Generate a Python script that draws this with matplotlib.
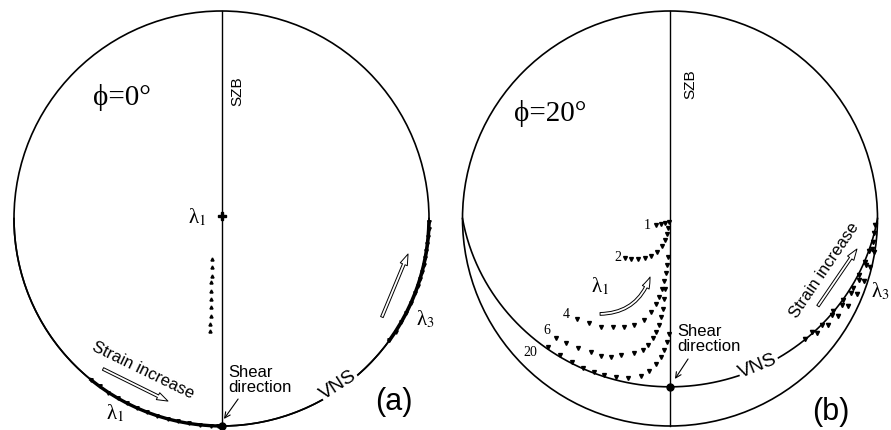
import numpy as np
import matplotlib.pyplot as plt
from matplotlib.patches import Circle, FancyArrowPatch

plt.rcParams['mathtext.fontset'] = 'stix'
SANS = ['Liberation Sans', 'DejaVu Sans']
SERIF = ['Liberation Serif', 'DejaVu Serif']

# ---------------- data: panel (a), phi = 0 deg ----------------
PHI_A = 0
lam1_a_start = (0.0, 0.01)
lam1_a_x = [-0.046, -0.047, -0.048, -0.049, -0.050, -0.051, -0.052, -0.053, -0.054, -0.055]
lam1_a_y = [-0.195, -0.234, -0.277, -0.306, -0.349, -0.388, -0.427, -0.470, -0.508, -0.542]
# lambda1 / lambda3 positions lying on the primitive (angle in deg, math convention)
lam1_a_rim = [-129, -126, -123, -120, -117, -114, -111, -108, -105, -102, -99, -96, -93, -91]
lam3_a_rim = [-1, -3, -5, -7, -9, -11, -13, -15, -17, -19, -21, -24, -27, -30, -33, -36]

# ---------------- data: panel (b), phi = 20 deg ----------------
PHI_B = 20
curve_labels = ['1', '2', '4', '6', '20']
curve_label_xy = [(-0.111, -0.031), (-0.252, -0.182), (-0.499, -0.458),
                  (-0.596, -0.535), (-0.673, -0.642)]
c1_x = [-0.068, -0.044, -0.024, -0.005]
c1_y = [-0.031, -0.027, -0.022, -0.017]
c2_x = [-0.218, -0.189, -0.155, -0.121, -0.092, -0.063, -0.039, -0.024, -0.015, -0.010]
c2_y = [-0.191, -0.196, -0.196, -0.191, -0.182, -0.162, -0.133, -0.104, -0.075, -0.046]
c4_x = [-0.010, -0.015, -0.019, -0.029, -0.039, -0.053, -0.068, -0.092, -0.126, -0.174,
        -0.223, -0.276, -0.334, -0.392, -0.446]
c4_y = [-0.186, -0.225, -0.264, -0.303, -0.341, -0.380, -0.414, -0.453, -0.487, -0.511,
        -0.521, -0.525, -0.521, -0.506, -0.482]
c6_x = [-0.024, -0.029, -0.034, -0.044, -0.053, -0.068, -0.082, -0.107, -0.131, -0.174,
        -0.237, -0.286, -0.334, -0.383, -0.441, -0.499, -0.547]
c6_y = [-0.341, -0.390, -0.438, -0.477, -0.511, -0.545, -0.574, -0.608, -0.632, -0.646,
        -0.656, -0.666, -0.661, -0.642, -0.622, -0.598, -0.574]
c20_x = [-0.005, -0.015, -0.029, -0.044, -0.068, -0.102, -0.140, -0.203, -0.262, -0.320,
         -0.368, -0.421, -0.470, -0.528, -0.586]
c20_y = [-0.559, -0.593, -0.632, -0.666, -0.700, -0.734, -0.758, -0.768, -0.763, -0.753,
         -0.738, -0.719, -0.690, -0.656, -0.617]
lam3_b_x = [[0.990, 0.985, 0.976, 0.960, 0.940, 0.913, 0.880, 0.834, 0.786],
            [0.684, 0.733, 0.781, 0.829, 0.872, 0.911, 0.945, 0.973],
            [0.651, 0.708, 0.761, 0.810, 0.858, 0.901, 0.935, 0.964, 0.984]]
lam3_b_y = [[-0.030, -0.070, -0.113, -0.157, -0.210, -0.272, -0.335, -0.393, -0.446],
            [-0.547, -0.513, -0.465, -0.417, -0.359, -0.296, -0.224, -0.147],
            [-0.580, -0.550, -0.515, -0.470, -0.420, -0.362, -0.300, -0.232, -0.160]]

# ---------------- layout (reference pixels) ----------------
W, H = 891, 431
R = 207.5
CY = 219.5


def great_circle(phi_deg, n=361):
    """Equal-area lower-hemisphere trace of an E-W plane dipping phi towards S."""
    t = np.radians(np.linspace(0, 180, n))
    p = np.radians(phi_deg)
    vx, vy, vz = np.cos(t), -np.sin(t) * np.cos(p), -np.sin(t) * np.sin(p)
    h = np.hypot(vx, vy)
    r = np.sqrt(1 + vz)
    return vx * r / h, vy * r / h


def setup(fig, left_px, right_px, cx):
    ax = fig.add_axes([left_px / W, 0, (right_px - left_px) / W, 1])
    ax.set_xlim((left_px - cx) / R, (right_px - cx) / R)
    ax.set_ylim((CY - H) / R, CY / R)
    ax.axis('off')
    ax.add_patch(Circle((0, 0), 1, fill=False, ec='black', lw=1.2))
    ax.plot([0, 0], [-1, 1], color='black', lw=1.0)
    return ax


def hollow_arrow(ax, start, end, rad=0.0):
    ax.add_patch(FancyArrowPatch(start, end, connectionstyle=f'arc3,rad={rad}',
                                 arrowstyle='simple,head_length=0.8,head_width=0.55,tail_width=0.2',
                                 mutation_scale=10, fc='white', ec='black', lw=0.7,
                                 shrinkA=0, shrinkB=0, zorder=4))


def rim(angles):
    a = np.radians(angles)
    return np.cos(a), np.sin(a)


fig = plt.figure(figsize=(W / 100, H / 100), dpi=100)

# ===================== panel (a) =====================
ax = setup(fig, 0, 445.5, 221.5)
gx, gy = great_circle(PHI_A)
ax.plot(gx, gy, color='black', lw=1.2)
ax.plot(*lam1_a_start, marker='P', ms=6, color='black')
ax.plot(lam1_a_x, lam1_a_y, ls='none', marker='^', ms=2.2, color='black')
x1, y1 = rim(lam1_a_rim)
ax.plot(x1, y1, color='black', lw=2.4, marker='v', ms=2.5)
x3, y3 = rim(lam3_a_rim)
ax.plot(x3, y3, color='black', lw=2.6, marker='v', ms=2.5)
sx, sy = great_circle(PHI_A, 3)
ax.plot(sx[1], sy[1], marker='o', ms=5, color='black')

ax.text(-0.48, 0.59, 'ϕ=0°', family=SERIF, fontsize=21, ha='center', va='center')
ax.text(0.075, 0.619, 'SZB', family=SANS, fontsize=11, rotation=90, ha='center', va='center')
ax.text(-0.118, 0.012, r'λ$_1$', family=SERIF, fontsize=15, ha='center', va='center')
ax.text(-0.513, -0.933, r'λ$_1$', family=SERIF, fontsize=15, ha='center', va='center')
ax.text(0.981, -0.484, r'λ$_3$', family=SERIF, fontsize=15, ha='center', va='center')
ax.text(-0.378, -0.725, 'Strain increase', family=SANS, fontsize=12, rotation=-26,
        ha='center', va='center', rotation_mode='anchor')
hollow_arrow(ax, (-0.571, -0.725), (-0.258, -0.880))
hollow_arrow(ax, (0.773, -0.475), (0.899, -0.171))
ax.text(0.031, -0.773, 'Shear\ndirection', family=SANS, fontsize=12, ha='left',
        va='center', linespacing=1.0)
ax.annotate('', xy=(0.012, -0.966), xytext=(0.080, -0.870),
            arrowprops=dict(arrowstyle='->', lw=0.8, color='black', shrinkA=0, shrinkB=0))
ax.text(0.561, -0.798, 'VNS', family=SANS, fontsize=14, rotation=33, ha='center',
        va='center', rotation_mode='anchor',
        bbox=dict(fc='white', ec='none', pad=0.5))
ax.text(0.831, -0.880, '(a)', family=SANS, fontsize=22, ha='center', va='center')

# ===================== panel (b) =====================
ax = setup(fig, 445.5, 891, 670)
gx, gy = great_circle(PHI_B)
ax.plot(gx, gy, color='black', lw=1.2)
for cx_, cy_ in [(c1_x, c1_y), (c2_x, c2_y), (c4_x, c4_y), (c6_x, c6_y), (c20_x, c20_y)]:
    ax.plot(cx_, cy_, ls='none', marker='v', ms=2.8, color='black')
for lab, (lx, ly) in zip(curve_labels, curve_label_xy):
    ax.text(lx, ly, lab, family=SERIF, fontsize=10, ha='center', va='center')
for px, py in zip(lam3_b_x, lam3_b_y):
    ax.plot(px, py, ls='none', marker='v', ms=3, color='black')
sx, sy = great_circle(PHI_B, 3)
ax.plot(sx[1], sy[1], marker='o', ms=5, color='black')

ax.text(-0.578, 0.513, 'ϕ=20°', family=SERIF, fontsize=21, ha='center', va='center')
ax.text(0.096, 0.653, 'SZB', family=SANS, fontsize=11, rotation=90, ha='center', va='center')
ax.text(-0.337, -0.325, r'λ$_1$', family=SERIF, fontsize=15, ha='center', va='center')
hollow_arrow(ax, (-0.337, -0.460), (-0.096, -0.282), rad=0.35)
ax.text(0.742, -0.243, 'Strain increase', family=SANS, fontsize=12, rotation=56,
        ha='center', va='center', rotation_mode='anchor')
hollow_arrow(ax, (0.713, -0.422), (0.901, -0.147))
ax.text(1.060, -0.349, r'λ$_3$', family=SERIF, fontsize=15, ha='right', va='center')
ax.text(0.034, -0.578, 'Shear\ndirection', family=SANS, fontsize=12, ha='left',
        va='center', linespacing=1.0)
ax.annotate('', xy=(0.024, -0.773), xytext=(0.087, -0.677),
            arrowprops=dict(arrowstyle='->', lw=0.8, color='black', shrinkA=0, shrinkB=0))
ax.text(0.424, -0.706, 'VNS', family=SANS, fontsize=14, rotation=22, ha='center',
        va='center', rotation_mode='anchor',
        bbox=dict(fc='white', ec='none', pad=0.5))
ax.text(0.776, -0.928, '(b)', family=SANS, fontsize=22, ha='center', va='center')

fig.savefig('out.png', dpi=100, facecolor='white')
